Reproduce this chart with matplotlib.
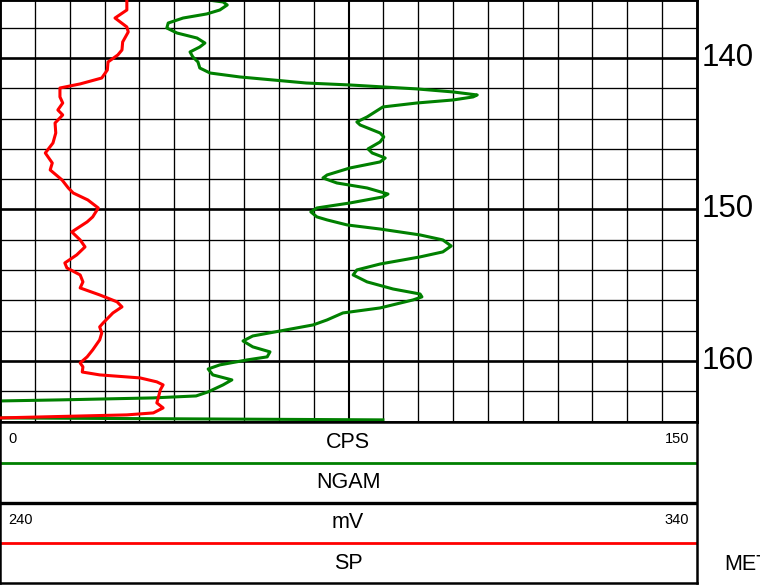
import matplotlib
matplotlib.use("Agg")
import matplotlib.pyplot as plt
import numpy as np

plt.rcParams['font.family'] = ['Liberation Sans', 'DejaVu Sans']

# depth window of the track (metres)
depth_top = 136.17
depth_bottom = 164.03
depth_labels = [140, 150, 160]

# NGAM curve, 0-150 CPS
ngam_depth = [135.97, 136.17, 136.30, 136.50, 136.83, 137.09, 137.36, 137.69, 138.02,
              138.35, 138.68, 139.01, 139.27, 139.60, 139.93, 140.26, 140.66, 140.99,
              141.25, 141.65, 141.78, 142.04, 142.24, 142.44, 142.57, 142.77, 142.97,
              143.23, 143.56, 143.89, 144.22, 144.42, 144.95, 145.21, 145.54, 146.00,
              146.27, 146.60, 146.86, 147.26, 147.72, 147.92, 148.25, 148.58, 148.98,
              149.17, 149.57, 149.90, 150.16, 150.49, 150.69, 151.02, 151.29, 151.68,
              152.01, 152.41, 152.80, 153.13, 153.60, 153.99, 154.32, 154.78, 155.25,
              155.58, 155.77, 155.97, 156.50, 156.83, 157.29, 157.62, 158.02, 158.35,
              158.68, 159.07, 159.40, 159.73, 159.93, 160.26, 160.53, 160.92, 161.25,
              161.58, 162.04, 162.31, 162.44, 162.57, 162.64, 163.76, 163.89]
ngam_cps = [43.5, 44.8, 48.0, 48.9, 47.3, 44.5, 39.4, 36.2, 35.9,
            38.1, 42.4, 44.1, 43.0, 40.9, 41.5, 42.6, 43.0, 45.2,
            51.6, 65.9, 75.3, 89.7, 97.5, 102.7, 101.8, 97.5, 89.7,
            82.4, 80.7, 79.0, 76.8, 77.5, 81.8, 82.6, 81.8, 79.2,
            80.1, 82.9, 81.8, 75.3, 70.4, 69.5, 72.5, 79.0, 83.5,
            82.4, 75.3, 68.2, 66.9, 68.2, 70.4, 74.7, 81.8, 90.4,
            95.3, 97.1, 95.3, 90.4, 81.8, 76.8, 76.0, 79.0, 84.6,
            90.4, 90.8, 88.9, 81.8, 73.8, 70.4, 67.4, 60.3, 54.4,
            52.3, 54.4, 58.1, 57.5, 53.2, 47.3, 44.8, 45.8, 49.9,
            48.0, 44.8, 42.2, 32.9, 12.9, 0.0, 0.0, 82.4]

# SP curve, 240-340 mV
sp_depth = [135.97, 136.17, 136.83, 137.36, 137.95, 138.28, 138.94, 139.47, 139.80,
            140.26, 140.79, 141.32, 141.71, 141.98, 142.57, 142.97, 143.43, 143.76,
            144.29, 144.95, 145.61, 146.27, 146.93, 147.39, 148.05, 148.58, 148.91,
            149.37, 149.90, 150.49, 150.82, 151.48, 152.01, 152.47, 153.00, 153.53,
            153.86, 154.32, 154.78, 155.18, 155.64, 155.84, 156.10, 156.43, 156.83,
            157.49, 157.75, 158.15, 158.61, 159.27, 159.73, 160.13, 160.39, 160.73,
            160.92, 161.12, 161.38, 161.58, 161.91, 162.44, 162.77, 163.10, 163.43,
            163.56, 163.76]
sp_mv = [258.2, 258.2, 258.2, 256.5, 258.2, 258.4, 257.6, 257.5, 256.9,
         255.5, 255.4, 254.6, 251.5, 248.6, 248.6, 249.0, 248.3, 249.0,
         247.9, 248.0, 247.6, 246.5, 247.5, 247.2, 248.9, 249.8, 250.5,
         252.6, 254.1, 253.3, 252.5, 250.3, 251.5, 252.2, 251.0, 249.3,
         249.6, 251.5, 251.9, 251.5, 254.3, 255.4, 256.8, 257.5, 256.2,
         254.8, 254.3, 254.6, 254.3, 253.3, 252.5, 251.5, 251.9, 251.8,
         254.3, 260.1, 262.5, 263.4, 263.0, 262.7, 262.5, 263.4, 262.0,
         258.2, 240.0]

green = '#008000'
red = '#ff0000'

W, H = 760, 586
fig = plt.figure(figsize=(W / 100, H / 100), dpi=100)

# ---- main log track ----
track_r = 697
track_b = 422
ax = fig.add_axes([0, 1 - track_b / H, track_r / W, track_b / H])
ax.set_xlim(0, 150)
ax.set_ylim(depth_bottom, depth_top)

for d in np.arange(138, 164, 2):
    lw = 1.9 if d % 10 == 0 else 0.95
    ax.axhline(d, color='black', lw=lw, zorder=1)
for i, c in enumerate(np.arange(7.5, 150, 7.5)):
    lw = 1.5 if i == 9 else 0.95
    ax.axvline(c, color='black', lw=lw, zorder=1)

ax.plot(ngam_cps, ngam_depth, color=green, lw=2.2, solid_joinstyle='round', zorder=3)

ax2 = ax.twiny()
ax2.set_xlim(240, 340)
ax2.plot(sp_mv, sp_depth, color=red, lw=2.2, solid_joinstyle='round', zorder=3)

for a in (ax, ax2):
    a.set_xticks([])
    a.set_yticks([])
    for s in a.spines.values():
        s.set_linewidth(1.8)
        s.set_color('black')

for d in depth_labels:
    ax.text(1.006, d, str(d), transform=ax.get_yaxis_transform(),
            ha='left', va='center', fontsize=22.5, color='black', clip_on=False)

# ---- header panels ----
hb = 583
hx = fig.add_axes([0, 1 - hb / H, track_r / W, (hb - track_b) / H])
hx.set_xlim(0, track_r)
hx.set_ylim(hb, track_b)
hx.set_xticks([])
hx.set_yticks([])
for s in hx.spines.values():
    s.set_linewidth(1.8)

hx.axhline(463, color=green, lw=2.0)
hx.axhline(503, color='black', lw=2.4)
hx.axhline(543, color=red, lw=2.0)

mid = 348
small = 10.5
big = 15.5
hx.text(8, 439, '0', ha='left', va='center', fontsize=small)
hx.text(689, 439, '150', ha='right', va='center', fontsize=small)
hx.text(mid, 443, 'CPS', ha='center', va='center', fontsize=big)
hx.text(mid, 483, 'NGAM', ha='center', va='center', fontsize=big)
hx.text(8, 520, '240', ha='left', va='center', fontsize=small)
hx.text(689, 520, '340', ha='right', va='center', fontsize=small)
hx.text(mid, 523, 'mV', ha='center', va='center', fontsize=big)
hx.text(mid, 564, 'SP', ha='center', va='center', fontsize=big)

# depth unit label, cut by the right edge as in the source log
fig.text(724 / W, 1 - 564 / H, 'METRES', ha='left', va='center', fontsize=big)

fig.savefig('out.png', dpi=100)
